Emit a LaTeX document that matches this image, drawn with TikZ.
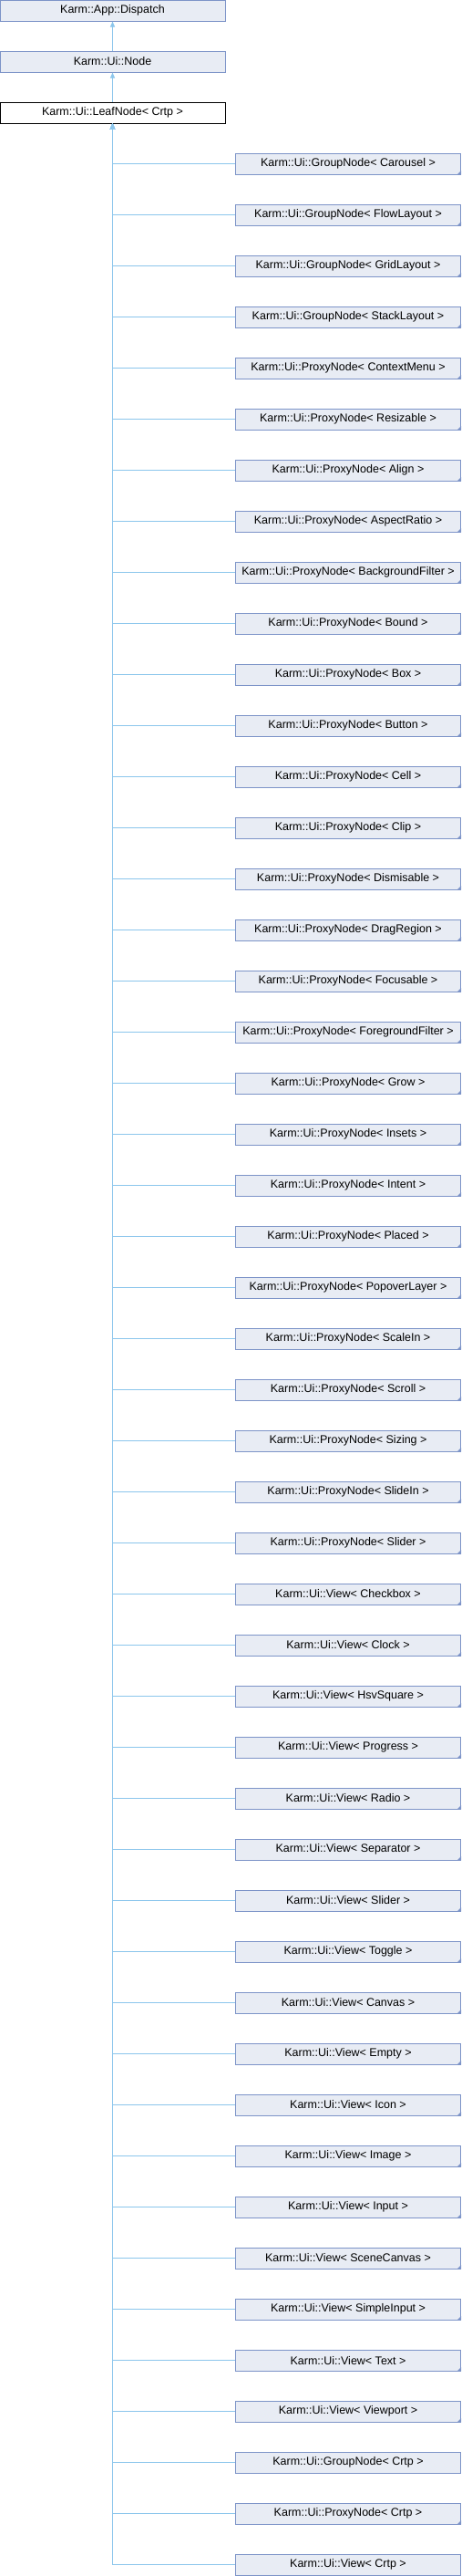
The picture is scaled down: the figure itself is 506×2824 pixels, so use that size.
\documentclass[tikz,border=0pt]{standalone}
\usepackage{fontspec}
\setmainfont{Liberation Sans}
\usetikzlibrary{arrows.meta}
\definecolor{boxfill}{HTML}{E8ECF4}
\definecolor{boxline}{HTML}{7D94C8}
\definecolor{edgeline}{HTML}{8CC6EC}
\begin{document}
\begin{tikzpicture}[x=1pt,y=1pt,
	classbox/.style={draw=boxline,fill=boxfill,line width=1pt,minimum width=247pt,
		minimum height=23pt,inner sep=0pt,font=\fontsize{12.5}{15}\selectfont},
	leafbox/.style={classbox,draw=black,fill=white},
	inherit/.style={draw=edgeline,line width=1pt,-{Triangle[length=6pt,width=5pt]}}]
	\useasboundingbox (0,0) rectangle (506,-2824);
	\node[classbox] (dispatch) at (123.5,-11.5) {Karm::App::Dispatch};
	\node[classbox] (uinode) at (123.5,-67.5) {Karm::Ui::Node};
	\node[leafbox] (leaf) at (123.5,-123.5) {Karm::Ui::LeafNode< Crtp >};
	\draw[inherit] (uinode) -- (dispatch);
	\draw[inherit] (leaf) -- (uinode);
	\foreach \kind/\targ/\corner [count=\i] in {
		GroupNode/Carousel/1, GroupNode/FlowLayout/1, GroupNode/GridLayout/1,
		GroupNode/StackLayout/1, ProxyNode/ContextMenu/1, ProxyNode/Resizable/1,
		ProxyNode/Align/1, ProxyNode/AspectRatio/1, ProxyNode/BackgroundFilter/1,
		ProxyNode/Bound/1, ProxyNode/Box/1, ProxyNode/Button/1, ProxyNode/Cell/1,
		ProxyNode/Clip/1, ProxyNode/Dismisable/1, ProxyNode/DragRegion/1,
		ProxyNode/Focusable/1, ProxyNode/ForegroundFilter/1, ProxyNode/Grow/1,
		ProxyNode/Insets/1, ProxyNode/Intent/1, ProxyNode/Placed/1,
		ProxyNode/PopoverLayer/1, ProxyNode/ScaleIn/1, ProxyNode/Scroll/1,
		ProxyNode/Sizing/1, ProxyNode/SlideIn/1, ProxyNode/Slider/1,
		View/Checkbox/1, View/Clock/1, View/HsvSquare/1, View/Progress/1,
		View/Radio/1, View/Separator/1, View/Slider/1, View/Toggle/1,
		View/Canvas/1, View/Empty/1, View/Icon/1, View/Image/1, View/Input/1,
		View/SceneCanvas/1, View/SimpleInput/1, View/Text/1, View/Viewport/1,
		GroupNode/Crtp/0, ProxyNode/Crtp/1, View/Crtp/0} {
		\node[classbox] (c\i) at (382,{-179.5-56*(\i-1)}) {Karm::Ui::\kind< \targ{} >};
		\ifnum\corner=1
			\fill[boxline] (c\i.south east) -- ++(-4.5,0) -- ++(4.5,4.5) -- cycle;
		\fi
		\draw[inherit] (c\i.west) -| (leaf.south);
	}
\end{tikzpicture}
\end{document}
